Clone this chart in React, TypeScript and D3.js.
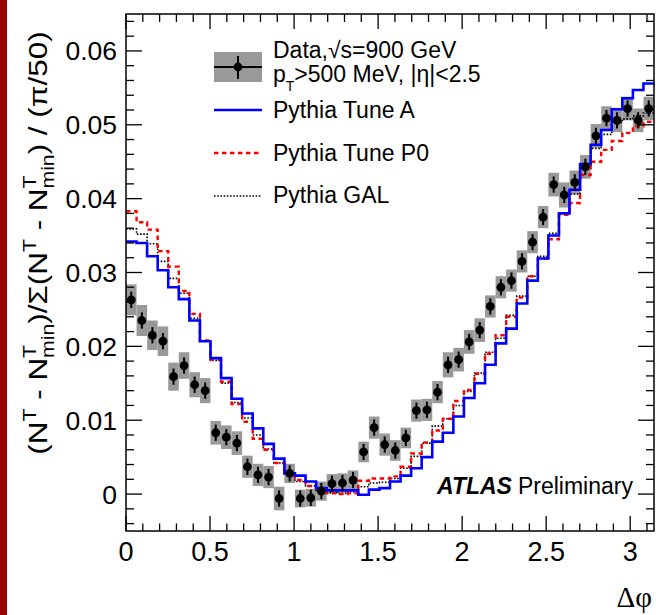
import React, { useRef, useEffect } from "react";
import * as d3 from "d3";

// 50 bins in delta phi, width pi/50
const nBins = 50;

const dataValues = [
  0.0263, 0.0235, 0.0215, 0.0207, 0.0159, 0.0174, 0.0148, 0.014, 0.0083, 0.0077,
  0.0069, 0.0037, 0.0026, 0.0023, -0.0006, 0.0028, -0.0006, -0.0005, 0.0004, 0.0014,
  0.0015, 0.0019, 0.0057, 0.009, 0.0067, 0.0059, 0.0076, 0.0113, 0.0114, 0.0138,
  0.0175, 0.0182, 0.0206, 0.0222, 0.0254, 0.028, 0.0289, 0.0315, 0.0341, 0.0375,
  0.0419, 0.0405, 0.0422, 0.0443, 0.0485, 0.0509, 0.0506, 0.0522, 0.0506, 0.0522,
];

const dataSysErr = [
  0.0021, 0.0021, 0.002, 0.002, 0.0019, 0.0018, 0.0017, 0.0017, 0.0016, 0.0016,
  0.0016, 0.0015, 0.0015, 0.0015, 0.0016, 0.0013, 0.0012, 0.0012, 0.0013, 0.0013,
  0.0013, 0.0013, 0.0014, 0.0015, 0.0015, 0.0014, 0.0014, 0.0015, 0.0015, 0.0015,
  0.0017, 0.0016, 0.0016, 0.0016, 0.0015, 0.0015, 0.0015, 0.0015, 0.0015, 0.0015,
  0.0016, 0.0017, 0.0016, 0.0016, 0.0016, 0.0016, 0.0016, 0.0016, 0.0016, 0.0016,
];

const dataStatErr = [
  0.0011, 0.0011, 0.0011, 0.0011, 0.0011, 0.0011, 0.0011, 0.0011, 0.0011, 0.0011,
  0.0011, 0.0011, 0.0011, 0.0011, 0.0011, 0.0011, 0.0011, 0.0011, 0.0011, 0.0011,
  0.0011, 0.0011, 0.0011, 0.0011, 0.0011, 0.0011, 0.0011, 0.0011, 0.0011, 0.0011,
  0.0011, 0.0011, 0.0011, 0.0011, 0.0011, 0.0011, 0.0011, 0.0011, 0.0011, 0.0011,
  0.0011, 0.0011, 0.0011, 0.0011, 0.0011, 0.0011, 0.0011, 0.0011, 0.0011, 0.0011,
];

const tuneA = [
  0.0342, 0.034, 0.0322, 0.0303, 0.028, 0.0264, 0.0235, 0.0207, 0.0184, 0.0157,
  0.0129, 0.0109, 0.0089, 0.0068, 0.0048, 0.0028, 0.0025, 0.0017, 0.0008, 0.0005,
  0.0005, 0.0005, -0.0001, 0.0006, 0.0008, 0.0017, 0.0025, 0.0035, 0.005, 0.0071,
  0.0083, 0.0105, 0.013, 0.015, 0.0175, 0.0204, 0.0224, 0.0258, 0.0289, 0.0319,
  0.035, 0.038, 0.0412, 0.0447, 0.0473, 0.0493, 0.0521, 0.0536, 0.0547, 0.0556,
];

const tuneP0 = [
  0.0383, 0.0368, 0.0358, 0.0329, 0.0308, 0.0275, 0.0244, 0.0208, 0.0182, 0.0152,
  0.0122, 0.0098, 0.0075, 0.006, 0.0042, 0.0026, 0.0019, 0.0011, 0.0004, 0.0001,
  0.0, 0.0001, 0.0018, 0.0021, 0.0021, 0.0024, 0.0037, 0.0055, 0.007, 0.0086,
  0.0102, 0.0126, 0.0141, 0.0163, 0.019, 0.0215, 0.024, 0.0266, 0.0295, 0.0319,
  0.0345, 0.0378, 0.0394, 0.0432, 0.045, 0.0466, 0.0478, 0.0489, 0.0498, 0.0504,
];

const tuneGAL = [
  0.0359, 0.0352, 0.0339, 0.0315, 0.0292, 0.0272, 0.0238, 0.0207, 0.0181, 0.015,
  0.0124, 0.0103, 0.008, 0.0061, 0.0042, 0.0029, 0.0017, 0.0011, 0.0005, 0.0002,
  0.0001, 0.0003, 0.001, 0.0015, 0.0016, 0.0021, 0.0035, 0.0051, 0.0069, 0.0092,
  0.0102, 0.012, 0.0139, 0.0164, 0.0192, 0.0211, 0.0242, 0.0268, 0.0295, 0.0322,
  0.0353, 0.038, 0.0406, 0.0445, 0.0468, 0.0487, 0.0503, 0.0508, 0.0512, 0.0516,
];

const xTickValues = [0, 0.5, 1, 1.5, 2, 2.5, 3];
const xTickLabels = ["0", "0.5", "1", "1.5", "2", "2.5", "3"];
const yTickValues = [0, 0.01, 0.02, 0.03, 0.04, 0.05, 0.06];
const yTickLabels = ["0", "0.01", "0.02", "0.03", "0.04", "0.05", "0.06"];

const font = "'Liberation Sans', Arial, Helvetica, sans-serif";

const App = () => {
  const svgRef = useRef<SVGSVGElement>(null);

  useEffect(() => {
    const width = 656;
    const height = 615;
    const frame = { left: 126, right: 654, top: 14, bottom: 531 };

    const svg = d3.select(svgRef.current).attr("width", width).attr("height", height);
    svg.selectAll("*").remove();

    const xScale = d3.scaleLinear().domain([0, Math.PI]).range([frame.left, frame.right]);
    const yScale = d3.scaleLinear().domain([-0.005, 0.065]).range([frame.bottom, frame.top]);
    const binW = Math.PI / nBins;
    const edges = d3.range(nBins + 1).map((i) => i * binW);

    svg.append("rect").attr("width", width).attr("height", height).attr("fill", "#fff");
    // dark red strip on the left edge
    svg.append("rect").attr("x", 0).attr("y", 0).attr("width", 7).attr("height", height).attr("fill", "#990000");

    svg
      .append("clipPath")
      .attr("id", "plotclip")
      .append("rect")
      .attr("x", frame.left)
      .attr("y", frame.top)
      .attr("width", frame.right - frame.left)
      .attr("height", frame.bottom - frame.top);

    const plot = svg.append("g").attr("clip-path", "url(#plotclip)");

    // systematic boxes
    plot
      .selectAll(".sys")
      .data(dataValues)
      .enter()
      .append("rect")
      .attr("x", (_, i) => xScale(edges[i]))
      .attr("width", (_, i) => xScale(edges[i + 1]) - xScale(edges[i]))
      .attr("y", (d, i) => yScale(d + dataSysErr[i]))
      .attr("height", (d, i) => yScale(d - dataSysErr[i]) - yScale(d + dataSysErr[i]))
      .attr("fill", "#999999");

    // MC histograms
    const histLine = (vals: number[]) =>
      d3
        .line<number>()
        .curve(d3.curveStepAfter)
        .x((e) => xScale(e))
        .y((_, i) => yScale(vals[Math.min(i, nBins - 1)]))(edges);

    plot
      .append("path")
      .attr("d", histLine(tuneGAL))
      .attr("fill", "none")
      .attr("stroke", "#000")
      .attr("stroke-width", 1.6)
      .attr("stroke-dasharray", "1.6 1.6");
    plot
      .append("path")
      .attr("d", histLine(tuneP0))
      .attr("fill", "none")
      .attr("stroke", "#ff0000")
      .attr("stroke-width", 2.4)
      .attr("stroke-dasharray", "4.5 3.5");
    plot
      .append("path")
      .attr("d", histLine(tuneA))
      .attr("fill", "none")
      .attr("stroke", "#0000ff")
      .attr("stroke-width", 2.6);

    // data points with stat error bars
    const centers = dataValues.map((_, i) => (i + 0.5) * binW);
    plot
      .selectAll(".stat")
      .data(dataValues)
      .enter()
      .append("line")
      .attr("x1", (_, i) => xScale(centers[i]))
      .attr("x2", (_, i) => xScale(centers[i]))
      .attr("y1", (d, i) => yScale(d - dataStatErr[i]))
      .attr("y2", (d, i) => yScale(d + dataStatErr[i]))
      .attr("stroke", "#000")
      .attr("stroke-width", 2);
    plot
      .selectAll(".pt")
      .data(dataValues)
      .enter()
      .append("circle")
      .attr("cx", (_, i) => xScale(centers[i]))
      .attr("cy", (d) => yScale(d))
      .attr("r", 4.4)
      .attr("fill", "#000");

    // frame
    svg
      .append("rect")
      .attr("x", frame.left)
      .attr("y", frame.top)
      .attr("width", frame.right - frame.left)
      .attr("height", frame.bottom - frame.top)
      .attr("fill", "none")
      .attr("stroke", "#000")
      .attr("stroke-width", 1.5);

    // ticks, ROOT style on all four sides
    const ticks = svg.append("g").attr("stroke", "#000").attr("stroke-width", 1.3);
    d3.range(0, 32).forEach((k) => {
      const t = k / 10;
      const major = k % 5 === 0;
      const px = xScale(t);
      const lenB = major ? 15 : 7.5;
      const lenT = major ? 15 : 8;
      ticks.append("line").attr("x1", px).attr("x2", px).attr("y1", frame.bottom).attr("y2", frame.bottom - lenB);
      ticks.append("line").attr("x1", px).attr("x2", px).attr("y1", frame.top).attr("y2", frame.top + lenT);
    });
    d3.range(-2, 33).forEach((k) => {
      const t = k * 0.002;
      const major = k % 5 === 0;
      const py = yScale(t);
      const len = major ? 16 : 8;
      ticks.append("line").attr("x1", frame.left).attr("x2", frame.left + len).attr("y1", py).attr("y2", py);
      ticks.append("line").attr("x1", frame.right).attr("x2", frame.right - len).attr("y1", py).attr("y2", py);
    });

    // tick labels
    svg
      .selectAll(".xl")
      .data(xTickValues)
      .enter()
      .append("text")
      .attr("x", (d) => xScale(d))
      .attr("y", 561)
      .attr("text-anchor", "middle")
      .style("font-family", font)
      .style("font-size", "27px")
      .text((_, i) => xTickLabels[i]);
    svg
      .selectAll(".yl")
      .data(yTickValues)
      .enter()
      .append("text")
      .attr("x", 117)
      .attr("y", (d) => yScale(d) + 9.5)
      .attr("text-anchor", "end")
      .style("font-family", font)
      .style("font-size", "26.5px")
      .text((_, i) => yTickLabels[i]);

    // y title (stretched along its length like the ROOT font)
    const yt = svg
      .append("text")
      .attr("transform", "translate(47,243) rotate(-90) scale(1.21,1)")
      .attr("text-anchor", "middle")
      .style("font-family", font)
      .style("font-size", "26px");
    const big = "26px";
    const small = "17.5px";
    const pieces: [string, string, number, number][] = [
      ["(N", big, 0, 0],
      ["T", small, 0, -11.5],
      [" - N", big, 0, 11.5],
      ["T", small, 0, -11.5],
      ["min", small, -10.7, 18.5],
      [")/\u03A3(N", big, 0, -7],
      ["T", small, 0, -11.5],
      [" - N", big, 0, 11.5],
      ["T", small, 0, -11.5],
      ["min", small, -10.7, 18.5],
      [") / (\u03C0/50)", big, 0, -7],
    ];
    pieces.forEach(([txt, fs, dx, dy]) => {
      yt.append("tspan").attr("dx", dx).attr("dy", dy).style("font-size", fs).text(txt);
    });

    // x title
    svg
      .append("text")
      .attr("x", 652)
      .attr("y", 607)
      .attr("text-anchor", "end")
      .style("font-family", "'Liberation Serif', 'DejaVu Serif', serif")
      .style("font-size", "29px")
      .text("\u0394\u03C6");

    // legend
    const leg = svg.append("g");
    const lx0 = 214;
    const lx1 = 262;
    const lxm = (lx0 + lx1) / 2;
    leg.append("rect").attr("x", lx0).attr("y", 52).attr("width", lx1 - lx0).attr("height", 30).attr("fill", "#999999");
    leg.append("line").attr("x1", lx0).attr("x2", lx1).attr("y1", 67).attr("y2", 67).attr("stroke", "#000").attr("stroke-width", 2);
    leg.append("line").attr("x1", lxm).attr("x2", lxm).attr("y1", 56).attr("y2", 79).attr("stroke", "#000").attr("stroke-width", 2);
    leg.append("circle").attr("cx", lxm).attr("cy", 67).attr("r", 4.4).attr("fill", "#000");
    leg.append("line").attr("x1", lx0).attr("x2", lx1).attr("y1", 110).attr("y2", 110).attr("stroke", "#0000ff").attr("stroke-width", 2.6);
    leg
      .append("line")
      .attr("x1", lx0)
      .attr("x2", lx1)
      .attr("y1", 153)
      .attr("y2", 153)
      .attr("stroke", "#ff0000")
      .attr("stroke-width", 2.4)
      .attr("stroke-dasharray", "4.5 3.5");
    leg
      .append("line")
      .attr("x1", lx0)
      .attr("x2", lx1)
      .attr("y1", 196)
      .attr("y2", 196)
      .attr("stroke", "#000")
      .attr("stroke-width", 1.6)
      .attr("stroke-dasharray", "1.6 1.6");

    const legText = (y: number) =>
      leg.append("text").attr("x", 273).attr("y", y).style("font-family", font).style("font-size", "23px");
    legText(58).text("Data,\u221As=900 GeV");
    const pt = legText(82);
    pt.append("tspan").text("p");
    pt.append("tspan").attr("dy", 9).style("font-size", "14px").text("T");
    pt.append("tspan").attr("dy", -9).text(">500 MeV, |\u03B7|<2.5");
    legText(118).text("Pythia Tune A");
    legText(161).text("Pythia Tune P0");
    legText(203).text("Pythia GAL");

    // ATLAS label
    const atl = svg.append("text").attr("x", 437).attr("y", 494).style("font-family", font).style("font-size", "23px");
    atl.append("tspan").style("font-weight", "bold").style("font-style", "italic").text("ATLAS");
    atl.append("tspan").attr("dx", 6).text("Preliminary");
  }, []);

  return <svg ref={svgRef} style={{ position: "absolute", left: 0, top: 0 }}></svg>;
};

export default App;
